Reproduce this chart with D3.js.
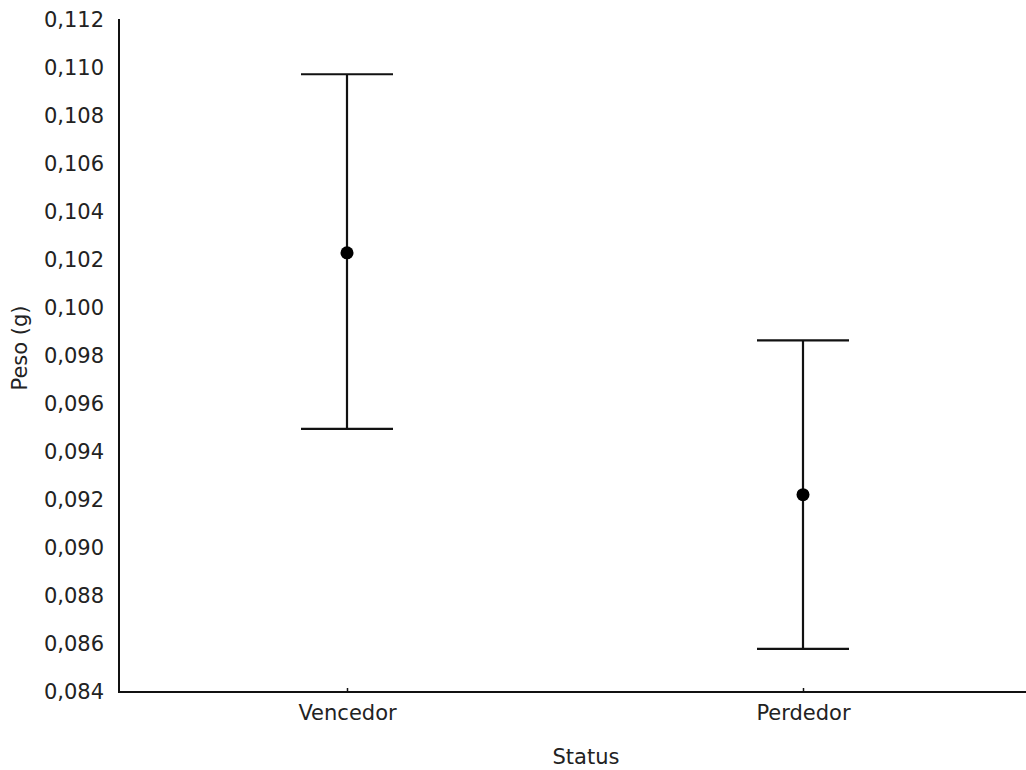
<!DOCTYPE html>
<html>
<head>
<meta charset="utf-8">
<script src="https://cdn.jsdelivr.net/npm/d3@7"></script>
<style>
body { margin: 0; background: #fff; }
text { font-family: "DejaVu Sans", Verdana, sans-serif; fill: #222; }
</style>
</head>
<body>
<div id="grafico"></div>
<script>
let categorias = ["Vencedor", "Perdedor"];
let medias = [0.10230, 0.09222];
let superiores = [0.10974, 0.09865];
let inferiores = [0.09496, 0.08580];
let ticksY = [0.084, 0.086, 0.088, 0.090, 0.092, 0.094, 0.096, 0.098, 0.100, 0.102, 0.104, 0.106, 0.108, 0.110, 0.112];

let width = 1026,
height = 770;

let svg = d3.select("#grafico")
.append("svg")
.attr("width", width)
.attr("height", height);

let x = d3.scalePoint()
.domain(categorias)
.range([119, 1031])
.padding(0.5);

let y = d3.scaleLinear()
.domain([0.084, 0.112])
.range([692, 20]);

let dados = categorias.map((c, i) => ({ cat: c, m: medias[i], hi: superiores[i], lo: inferiores[i] }));

// eixo y
let eixoY = svg.append("g")
.attr("transform", "translate(119,0)")
.call(d3.axisLeft(y).tickValues(ticksY).tickSize(0).tickPadding(15)
  .tickFormat(d => d3.format(".3f")(d).replace(".", ",")));
eixoY.select(".domain").attr("stroke", "#111").attr("stroke-width", 2).attr("d", "M0,19V692");
eixoY.selectAll("text").attr("font-size", 21).attr("fill", "#222");

// eixo x
let eixoX = svg.append("g")
.attr("transform", "translate(0,692)")
.call(d3.axisBottom(x).tickSizeInner(-4).tickSizeOuter(0).tickPadding(13));
eixoX.select(".domain").attr("stroke", "#111").attr("stroke-width", 2).attr("d", "M118,0H1026");
eixoX.selectAll(".tick line").attr("stroke", "#111").attr("stroke-width", 1.5);
eixoX.selectAll("text").attr("font-size", 21).attr("fill", "#222");

// barras de erro
let g = svg.append("g");
g.selectAll(".vert")
.data(dados)
.enter().append("line")
.attr("x1", d => x(d.cat)).attr("x2", d => x(d.cat))
.attr("y1", d => y(d.hi)).attr("y2", d => y(d.lo))
.attr("stroke", "#111").attr("stroke-width", 2.2);

g.selectAll(".capHi")
.data(dados)
.enter().append("line")
.attr("x1", d => x(d.cat) - 46).attr("x2", d => x(d.cat) + 46)
.attr("y1", d => y(d.hi)).attr("y2", d => y(d.hi))
.attr("stroke", "#111").attr("stroke-width", 2.2);

g.selectAll(".capLo")
.data(dados)
.enter().append("line")
.attr("x1", d => x(d.cat) - 46).attr("x2", d => x(d.cat) + 46)
.attr("y1", d => y(d.lo)).attr("y2", d => y(d.lo))
.attr("stroke", "#111").attr("stroke-width", 2.2);

g.selectAll("circle")
.data(dados)
.enter().append("circle")
.attr("cx", d => x(d.cat))
.attr("cy", d => y(d.m))
.attr("r", 6.5)
.attr("fill", "#000");

// titulos dos eixos
svg.append("text")
.attr("x", 586).attr("y", 764)
.attr("text-anchor", "middle")
.attr("font-size", 21)
.text("Status");

svg.append("text")
.attr("transform", "translate(27,348) rotate(-90)")
.attr("text-anchor", "middle")
.attr("font-size", 21)
.text("Peso (g)");
</script>
</body>
</html>
